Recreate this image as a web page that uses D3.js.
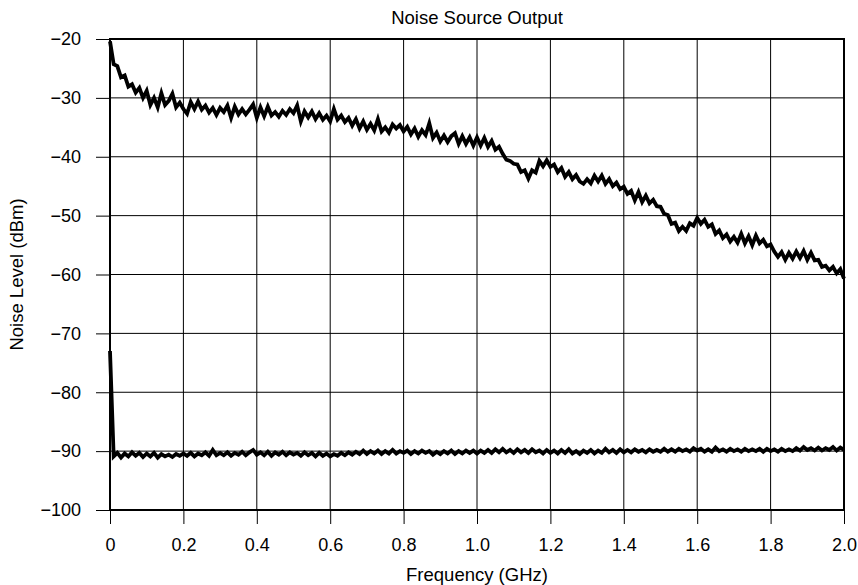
<!DOCTYPE html>
<html>
<head>
<meta charset="utf-8">
<script src="https://cdn.jsdelivr.net/npm/d3@7/dist/d3.min.js"></script>
<style>
  html, body { margin: 0; padding: 0; background: #fff; }
  svg { display: block; font-family: "Liberation Sans", Arial, Helvetica, sans-serif; }
</style>
</head>
<body>
<svg id="chart" width="858" height="585"></svg>
<script>
// Sweep: 0 to 2.0 GHz in 10 MHz steps
const freqStart = 0;
const freqStep = 0.01;

// Noise source switched on (dBm)
const sourceOn = [
  -20.4, -24.3, -24.6, -26.5, -26.2, -28.1, -27.7, -29.1, -28.3, -30.0,
  -28.8, -31.2, -30.0, -31.6, -29.2, -31.2, -30.5, -29.3, -31.6, -30.8,
  -31.9, -32.7, -30.7, -31.9, -30.6, -32.0, -31.3, -32.5, -31.7, -32.9,
  -31.7, -32.4, -31.3, -33.4, -31.5, -32.8, -31.9, -32.8, -32.0, -31.1,
  -33.4, -31.6, -33.1, -31.5, -33.0, -32.4, -33.2, -32.2, -32.9, -31.9,
  -32.6, -31.3, -34.0, -32.3, -33.3, -32.3, -33.6, -32.6, -33.7, -33.0,
  -34.0, -31.9, -33.7, -33.0, -34.1, -33.4, -34.7, -33.6, -35.2, -34.0,
  -35.4, -34.4, -35.5, -33.6, -35.7, -35.0, -35.9, -34.5, -35.2, -34.6,
  -35.7, -34.9, -36.2, -35.2, -36.6, -35.5, -36.3, -34.3, -36.8, -35.9,
  -37.4, -36.4, -37.5, -36.5, -36.0, -37.8, -36.5, -37.8, -36.7, -38.1,
  -36.7, -38.1, -36.8, -38.3, -37.3, -38.8, -38.3, -39.5, -40.5, -40.7,
  -41.2, -41.3, -42.6, -42.3, -43.7, -42.3, -42.7, -40.7, -41.6, -40.6,
  -41.7, -41.3, -42.6, -41.9, -43.4, -42.6, -43.8, -43.1, -44.2, -44.6,
  -43.8, -44.5, -43.2, -44.2, -43.2, -44.6, -43.8, -45.0, -44.4, -45.5,
  -45.1, -46.3, -45.8, -47.4, -46.0, -47.7, -46.6, -47.9, -47.3, -48.4,
  -48.5, -49.7, -49.9, -51.4, -51.2, -52.6, -51.9, -52.6, -51.3, -51.7,
  -50.4, -51.4, -50.7, -51.9, -51.5, -53.1, -52.5, -53.8, -53.2, -54.4,
  -53.6, -54.6, -53.1, -54.7, -53.5, -55.0, -53.4, -54.7, -54.1, -55.2,
  -54.9, -56.1, -57.0, -56.2, -57.5, -56.3, -57.3, -56.1, -57.2, -56.0,
  -57.5, -56.3, -57.6, -57.5, -58.7, -58.5, -59.3, -58.7, -59.8, -59.1,
  -60.7
];

// Noise source switched off (dBm)
const sourceOff = [
  -73.0, -90.9, -90.3, -91.1, -90.4, -90.9, -90.2, -90.8, -90.3, -91.0,
  -90.4, -90.9, -90.3, -91.1, -90.5, -90.9, -90.6, -91.0, -90.5, -90.8,
  -90.4, -90.8, -90.3, -90.9, -90.4, -90.7, -90.2, -90.8, -89.8, -90.7,
  -90.3, -90.7, -90.2, -90.8, -90.3, -90.6, -90.1, -90.7, -90.2, -89.8,
  -90.6, -90.2, -90.7, -90.1, -90.8, -90.2, -90.6, -90.1, -90.7, -90.2,
  -90.6, -90.3, -90.8, -90.2, -90.7, -90.3, -90.9, -90.3, -90.8, -90.4,
  -90.9, -90.5, -90.8, -90.3, -90.7, -90.2, -90.6, -90.1, -90.5, -89.9,
  -90.5, -90.0, -90.4, -89.9, -90.5, -90.0, -90.4, -89.8, -90.4, -90.0,
  -90.3, -89.9, -90.5, -90.0, -90.4, -89.9, -90.3, -90.0, -90.6, -90.1,
  -90.5, -90.0, -90.4, -89.9, -90.5, -90.0, -90.4, -89.9, -90.3, -89.9,
  -90.4, -89.9, -90.3, -89.8, -90.3, -89.7, -90.2, -89.6, -90.2, -89.8,
  -90.3, -89.7, -90.2, -89.8, -90.3, -89.7, -90.2, -89.9, -90.4, -89.8,
  -90.3, -89.9, -90.4, -89.8, -90.3, -89.7, -90.4, -90.0, -90.5, -89.9,
  -90.3, -89.8, -90.4, -89.9, -90.3, -89.6, -90.2, -89.8, -90.3, -89.7,
  -90.2, -89.8, -90.2, -89.7, -90.1, -89.8, -90.2, -89.7, -90.1, -89.8,
  -90.1, -89.6, -90.1, -89.7, -90.1, -89.6, -90.0, -89.7, -90.1, -89.5,
  -89.9, -89.6, -90.1, -89.7, -90.1, -89.4, -90.0, -89.7, -90.1, -89.6,
  -90.0, -89.7, -90.1, -89.6, -90.0, -89.7, -90.0, -89.6, -90.1, -89.6,
  -90.0, -89.7, -90.1, -89.6, -90.0, -89.7, -90.0, -89.5, -89.9, -89.3,
  -89.8, -89.5, -89.9, -89.4, -89.9, -89.5, -89.8, -89.3, -89.9, -89.4,
  -89.8
];

// Axis ticks and labels
const xTicks = [0, 0.2, 0.4, 0.6, 0.8, 1.0, 1.2, 1.4, 1.6, 1.8, 2.0];
const xTickLabels = ["0", "0.2", "0.4", "0.6", "0.8", "1.0", "1.2", "1.4", "1.6", "1.8", "2.0"];
const yTicks = [-20, -30, -40, -50, -60, -70, -80, -90, -100];
const yTickLabels = ["\u221220", "\u221230", "\u221240", "\u221250", "\u221260", "\u221270", "\u221280", "\u221290", "\u2212100"];

const chartTitle = "Noise Source Output";
const xTitle = "Frequency (GHz)";
const yTitle = "Noise Level (dBm)";

const svg = d3.select("#chart");
const plot = { left: 110, right: 844, top: 39, bottom: 510 };

const x = d3.scaleLinear().domain([0, 2.0]).range([plot.left, plot.right]);
const y = d3.scaleLinear().domain([-100, -20]).range([plot.bottom, plot.top]);

// Grid
const grid = svg.append("g").attr("stroke", "#000").attr("stroke-width", 1);
grid.selectAll(".vg").data(xTicks).join("line")
  .attr("x1", d => x(d)).attr("x2", d => x(d))
  .attr("y1", plot.top).attr("y2", plot.bottom);
grid.selectAll(".hg").data(yTicks).join("line")
  .attr("x1", plot.left).attr("x2", plot.right)
  .attr("y1", d => y(d)).attr("y2", d => y(d));

// Axes
const tickFont = 18;
const xAxis = d3.axisBottom(x)
  .tickValues(xTicks)
  .tickFormat((d, i) => xTickLabels[i])
  .tickSizeInner(14).tickSizeOuter(0).tickPadding(14);
const gx = svg.append("g").attr("transform", `translate(0,${plot.bottom})`).call(xAxis);
gx.select(".domain").remove();
gx.selectAll("text").attr("font-size", tickFont).attr("fill", "#000").attr("font-family", null);

const yAxis = d3.axisLeft(y)
  .tickValues(yTicks)
  .tickFormat((d, i) => yTickLabels[i])
  .tickSizeInner(14).tickSizeOuter(0).tickPadding(15);
const gy = svg.append("g").attr("transform", `translate(${plot.left},0)`).call(yAxis);
gy.select(".domain").remove();
gy.selectAll("text").attr("font-size", tickFont).attr("fill", "#000").attr("font-family", null);

// Traces: heavy stroke with sharp joins gives the dense spiky sweep look
const line = d3.line()
  .x((d, i) => x(freqStart + i * freqStep))
  .y(d => y(d));

[sourceOff, sourceOn].forEach(series => {
  svg.append("path")
    .datum(series)
    .attr("d", line)
    .attr("fill", "none")
    .attr("stroke", "#000")
    .attr("stroke-width", 3.8)
    .attr("stroke-linejoin", "miter")
    .attr("stroke-miterlimit", 10);
});

// Frame
svg.append("rect")
  .attr("x", plot.left).attr("y", plot.top)
  .attr("width", plot.right - plot.left).attr("height", plot.bottom - plot.top)
  .attr("fill", "none").attr("stroke", "#000").attr("stroke-width", 2);

// Titles
const titleFont = 18.5;
svg.append("text")
  .attr("x", (plot.left + plot.right) / 2).attr("y", 24)
  .attr("text-anchor", "middle").attr("font-size", titleFont)
  .text(chartTitle);

svg.append("text")
  .attr("x", (plot.left + plot.right) / 2).attr("y", 581)
  .attr("text-anchor", "middle").attr("font-size", titleFont)
  .text(xTitle);

svg.append("text")
  .attr("transform", `translate(23,${(plot.top + plot.bottom) / 2}) rotate(-90)`)
  .attr("text-anchor", "middle").attr("font-size", titleFont)
  .text(yTitle);
</script>
</body>
</html>
